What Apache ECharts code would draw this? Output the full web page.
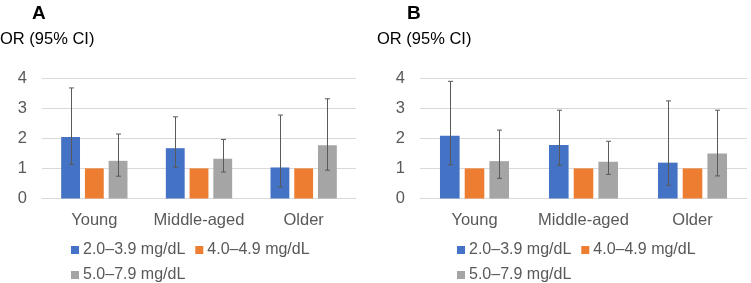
<!DOCTYPE html>
<html>
<head>
<meta charset="utf-8">
<script src="https://cdn.jsdelivr.net/npm/echarts@6/dist/echarts.min.js"></script>
<style>
  html, body { margin: 0; padding: 0; background: #fff; }
  #chart { width: 751px; height: 283px; }
</style>
</head>
<body>
<div id="chart"></div>
<script>
// data
var categories = ['Young', 'Middle-aged', 'Older'];
var seriesNames = ['2.0–3.9 mg/dL', '4.0–4.9 mg/dL', '5.0–7.9 mg/dL'];
var yTicks = [0, 1, 2, 3, 4];

// panel A
var a_low  = [2.04, 1.67, 1.03];
var a_mid  = [1, 1, 1];
var a_high = [1.25, 1.32, 1.77];
var a_low_ci  = [[1.13, 3.67], [1.04, 2.71], [0.38, 2.77]];
var a_high_ci = [[0.74, 2.14], [0.88, 1.96], [0.94, 3.31]];

// panel B
var b_low  = [2.08, 1.78, 1.19];
var b_mid  = [1, 1, 1];
var b_high = [1.24, 1.22, 1.49];
var b_low_ci  = [[1.12, 3.89], [1.10, 2.93], [0.44, 3.24]];
var b_high_ci = [[0.67, 2.27], [0.80, 1.90], [0.75, 2.93]];

var colors = ['#4472C4', '#ED7D31', '#A5A5A5'];
var textColor = '#595959';
var BAR_W = 0.18, BAR_GAP = 0.26;

var myChart = echarts.init(document.getElementById('chart'));

function errData(ci, idx) {
    return ci.map(function (d, i) { return [i, d[0], d[1], idx]; });
}

function renderErr(params, api) {
    var x = api.value(0);
    var band = api.size([1, 0])[0];
    var bw = band * BAR_W;
    var off = (api.value(3) - 1) * bw * (1 + BAR_GAP);
    var top = api.coord([x, api.value(2)]);
    var bot = api.coord([x, api.value(1)]);
    var cx = Math.round(top[0] + off) + 0.5;
    var st = { stroke: '#595959', lineWidth: 1 };
    return {
        type: 'group',
        children: [
            { type: 'line', shape: { x1: cx, y1: top[1], x2: cx, y2: bot[1] }, style: st },
            { type: 'line', shape: { x1: cx - 2.5, y1: top[1], x2: cx + 2.5, y2: top[1] }, style: st },
            { type: 'line', shape: { x1: cx - 2.5, y1: bot[1], x2: cx + 2.5, y2: bot[1] }, style: st }
        ]
    };
}

function bars(idx, vals) {
    return vals.map(function (v, k) {
        return {
            type: 'bar', name: seriesNames[k], data: v,
            xAxisIndex: idx, yAxisIndex: idx,
            barWidth: (BAR_W * 100) + '%', barGap: (BAR_GAP * 100) + '%',
            itemStyle: { color: colors[k] }
        };
    });
}

function errs(idx, lowCi, highCi) {
    return [
        { type: 'custom', renderItem: renderErr, data: errData(lowCi, 0),
          xAxisIndex: idx, yAxisIndex: idx, encode: { x: 0, y: [1, 2] }, z: 5 },
        { type: 'custom', renderItem: renderErr, data: errData(highCi, 2),
          xAxisIndex: idx, yAxisIndex: idx, encode: { x: 0, y: [1, 2] }, z: 5 }
    ];
}

function xAxis(idx) {
    return {
        type: 'category', gridIndex: idx, data: categories,
        axisLine: { lineStyle: { color: '#D9D9D9' } },
        axisTick: { show: false },
        axisLabel: { color: textColor, fontSize: 16.5, margin: 13, interval: 0, fontFamily: 'Liberation Sans' }
    };
}

function yAxis(idx) {
    return {
        type: 'value', gridIndex: idx, min: yTicks[0], max: yTicks[yTicks.length - 1], interval: 1,
        axisLine: { show: false }, axisTick: { show: false },
        splitLine: { lineStyle: { color: '#D9D9D9' } },
        axisLabel: { color: textColor, fontSize: 16.5, margin: 15, fontFamily: 'Liberation Sans' }
    };
}

function legends(left, top) {
    var base = {
        icon: 'rect', itemWidth: 8, itemHeight: 8, itemGap: 10, padding: 0,
        textStyle: { color: textColor, fontSize: 16, fontFamily: 'Liberation Sans', padding: [0, 0, 0, -1] },
        selectedMode: false
    };
    return [
        Object.assign({}, base, { left: left, top: top, data: seriesNames.slice(0, 2) }),
        Object.assign({}, base, { left: left, top: top + 25, data: seriesNames.slice(2) })
    ];
}

var option = {
    backgroundColor: '#fff',
    animation: false,
    textStyle: { fontFamily: 'Liberation Sans' },
    title: [
        { text: 'A', left: 32, top: 4, padding: 0, textStyle: { fontSize: 19, fontWeight: 'bold', color: '#000' } },
        { text: 'OR (95% CI)', left: 0, top: 31, padding: 0, textStyle: { fontSize: 16.5, fontWeight: 'normal', color: '#000' } },
        { text: 'B', left: 407, top: 4, padding: 0, textStyle: { fontSize: 19, fontWeight: 'bold', color: '#000' } },
        { text: 'OR (95% CI)', left: 377, top: 31, padding: 0, textStyle: { fontSize: 16.5, fontWeight: 'normal', color: '#000' } }
    ],
    legend: legends(71, 242).concat(legends(457, 242)),
    grid: [
        { left: 42, width: 314, top: 78, height: 120.5 },
        { left: 420, width: 327, top: 78, height: 120.5 }
    ],
    xAxis: [xAxis(0), xAxis(1)],
    yAxis: [yAxis(0), yAxis(1)],
    series: bars(0, [a_low, a_mid, a_high])
        .concat(bars(1, [b_low, b_mid, b_high]))
        .concat(errs(0, a_low_ci, a_high_ci))
        .concat(errs(1, b_low_ci, b_high_ci))
};

myChart.setOption(option);
</script>
</body>
</html>
